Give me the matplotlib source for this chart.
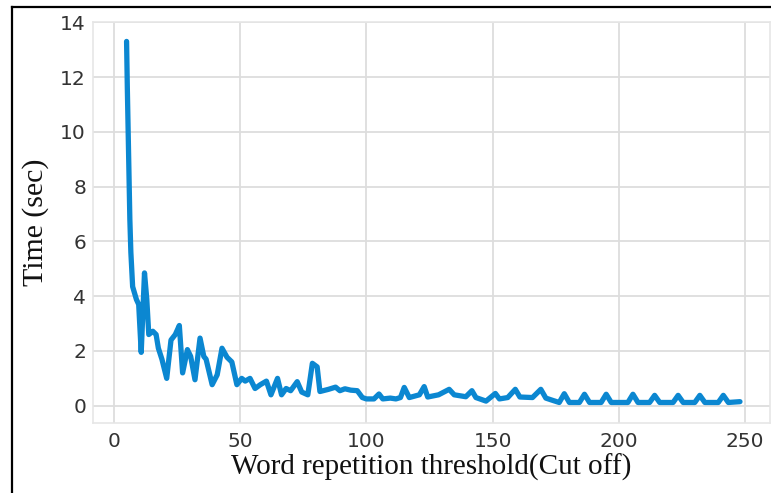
import matplotlib
matplotlib.use("Agg")
import matplotlib.pyplot as plt
from matplotlib.lines import Line2D

# Cut-off threshold vs. processing time
threshold = [5, 5.3, 5.8, 6.3, 6.7, 7.4, 8.9, 9.8, 10.8, 12.1, 13.0, 13.8, 15.4, 16.7,
             17.6, 19.0, 20.9, 22.6, 24.3, 25.9, 27.2, 29.1, 30.4, 32.1, 34.1, 35.6,
             36.5, 38.9, 40.9, 42.8, 44.8, 46.7, 48.7, 50.6, 52.0, 53.9, 55.9, 58.0,
             60.4, 62.2, 64.8, 66.4, 68.2, 70.0, 72.6, 74.4, 76.8, 78.6, 80.5, 81.6,
             85.0, 87.8, 89.5, 91.5, 93.8, 96.4, 98.4, 100.0, 103.0, 105.0, 106.5,
             109.5, 111.7, 113.5, 115.0, 117.0, 121.0, 122.9, 124.3, 128.6, 132.8,
             134.8, 139.4, 141.8, 143.4, 147.4, 151.1, 152.7, 156.0, 159.0, 160.8,
             165.8, 169.1, 171.1, 173.7, 176.4, 178.4, 180.4, 184.4, 186.4, 188.4,
             193.0, 195.0, 197.0, 203.6, 205.6, 207.6, 212.2, 214.2, 216.2, 221.5,
             223.5, 225.5, 230.1, 232.1, 234.1, 239.4, 241.4, 243.4, 248.0]
time_sec = [13.3, 11.6, 9.2, 6.8, 5.6, 4.35, 3.88, 3.7, 1.95, 4.85, 3.9, 2.6, 2.72, 2.6,
            2.1, 1.7, 1.0, 2.4, 2.6, 2.93, 1.2, 2.05, 1.8, 0.95, 2.47, 1.8,
            1.7, 0.77, 1.13, 2.1, 1.77, 1.6, 0.77, 1.0, 0.9, 1.0, 0.63, 0.77,
            0.9, 0.4, 1.0, 0.4, 0.63, 0.55, 0.88, 0.5, 0.4, 1.55, 1.42, 0.52,
            0.6, 0.68, 0.55, 0.62, 0.57, 0.55, 0.3, 0.25, 0.25, 0.43, 0.25,
            0.28, 0.25, 0.3, 0.67, 0.3, 0.4, 0.7, 0.32, 0.4, 0.6,
            0.4, 0.33, 0.55, 0.3, 0.17, 0.45, 0.25, 0.3, 0.6, 0.32,
            0.3, 0.6, 0.28, 0.2, 0.12, 0.44, 0.12, 0.12, 0.42, 0.12,
            0.12, 0.42, 0.12, 0.12, 0.42, 0.12, 0.12, 0.38, 0.12, 0.12,
            0.38, 0.12, 0.12, 0.38, 0.12, 0.12, 0.38, 0.12, 0.15]

x_ticks = [0, 50, 100, 150, 200, 250]
y_ticks = [0, 2, 4, 6, 8, 10, 12, 14]

W, H = 771, 493
fig = plt.figure(figsize=(W / 100, H / 100), dpi=100)
fig.patch.set_facecolor("white")

ax = fig.add_axes([93 / W, 1 - 423.3 / H, 677 / W, 401.6 / H])
ax.set_facecolor("white")
ax.plot(threshold, time_sec, color="#0b87d1", linewidth=3.8,
        solid_joinstyle="round", solid_capstyle="round", zorder=3)

ax.set_xlim(-8.3, 259.9)
ax.set_ylim(-0.64, 14.02)
ax.set_xticks(x_ticks)
ax.set_yticks(y_ticks)
ax.grid(True, color="#dddddd", linewidth=1.3, zorder=0)
ax.set_axisbelow(True)
for s in ax.spines.values():
    s.set_color("#e6e6e6")
    s.set_linewidth(1.2)

ax.tick_params(axis="both", length=0, labelsize=14.5, labelcolor="#333333")
ax.tick_params(axis="x", pad=6)
ax.tick_params(axis="y", pad=5)

serif = ["Liberation Serif", "DejaVu Serif"]
ax.set_xlabel("Word repetition threshold(Cut off)", family=serif, fontsize=21,
              color="#111111", labelpad=2)
ax.set_ylabel("Time (sec)", family=serif, fontsize=21.5, color="#111111", labelpad=8)

# black frame on the left and top edges of the image
fig.add_artist(Line2D([11.5 / W, 11.5 / W], [0, 1 - 6.5 / H], transform=fig.transFigure,
                      color="black", linewidth=1.6))
fig.add_artist(Line2D([11.5 / W, 1], [1 - 6.5 / H, 1 - 6.5 / H], transform=fig.transFigure,
                      color="black", linewidth=1.6))

fig.savefig("out.png", dpi=100)
